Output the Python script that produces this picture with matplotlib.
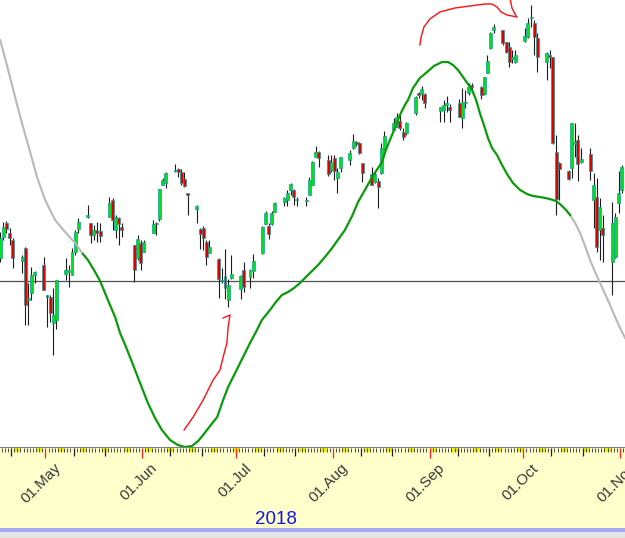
import matplotlib.pyplot as plt
import numpy as np
import pandas as pd
from matplotlib.patches import Rectangle

start = pd.Timestamp("2018-04-16")

# trading days as calendar-day offsets from start
day = [0, 1, 2, 3, 4, 7, 8, 9, 10, 11, 14, 15, 16, 17, 18, 21, 22, 23, 24, 25,
       28, 29, 30, 31, 32, 35, 36, 37, 38, 39, 43, 44, 45, 46,
       49, 50, 51, 52, 53, 56, 57, 58, 59, 60, 63, 64, 65, 66, 67, 70, 71, 72, 73, 74,
       77, 78, 80, 81, 84, 85, 86, 87, 88, 91, 92, 93, 94, 95, 98, 99, 100, 101, 102,
       105, 106, 107, 108, 109, 112, 113, 114, 115, 116, 119, 120, 121, 122, 123,
       126, 127, 128, 129, 130, 133, 134, 135, 136, 141, 142, 143, 144,
       147, 148, 149, 150, 151, 154, 155, 156, 157, 158, 161, 162, 163, 164, 165,
       168, 169, 170, 171, 172, 175, 176, 177, 178, 179, 182, 183, 184, 185, 186,
       189, 190, 191, 192, 193, 196, 197, 198, 199]

open_ = [242, 263, 277, 267, 260, 239, 252, 200, 207, 225, 235, 205, 203, 177, 180,
         226, 228, 225, 248, 271, 283, 277, 265, 270, 269, 283, 300, 270, 282, 273,
         255, 242, 257, 248, 267, 277, 281, 315, 317, 329, 331, 328, 321, 307,
         291, 271, 272, 258, 247, 241, 219, 224, 200, 222, 211, 230, 223, 229,
         247, 276, 274, 276, 288, 298, 300, 310, 310, 300, 299, 305, 315, 343, 348,
         340, 330, 342, 322, 332, 340, 352, 358, 357, 337, 326, 318, 319, 327, 351,
         370, 373, 379, 368, 367, 387, 407, 406, 406, 389, 390, 395, 393,
         397, 382, 397, 407, 415, 413, 406, 427, 452, 470, 470, 458, 453, 441, 438,
         459, 463, 482, 477, 462, 438, 445, 443, 348, 337, 329, 332, 356, 360, 338,
         346, 300, 303, 270, 272, 238, 243, 297, 310]
high = [268, 278, 279, 272, 262, 245, 253, 217, 233, 229, 243, 205, 205, 212, 220,
        242, 235, 252, 270, 282, 295, 277, 275, 278, 277, 303, 302, 285, 283, 277,
        255, 265, 260, 260, 280, 278, 311, 322, 328, 336, 332, 331, 328, 307,
        295, 272, 274, 260, 260, 242, 232, 251, 221, 245, 225, 238, 231, 246,
        274, 289, 277, 289, 298, 303, 310, 317, 311, 303, 303, 323, 339, 354, 349,
        345, 345, 345, 332, 343, 350, 366, 359, 358, 337, 333, 328, 322, 357, 369,
        382, 387, 385, 372, 378, 404, 408, 414, 407, 393, 400, 404, 396,
        401, 412, 410, 417, 417, 414, 423, 445, 468, 476, 470, 458, 458, 450, 450,
        472, 482, 495, 480, 467, 448, 450, 443, 365, 338, 330, 377, 377, 365, 352,
        352, 327, 322, 302, 285, 298, 287, 329, 335]
low = [238, 260, 267, 255, 232, 227, 175, 175, 200, 217, 210, 173, 178, 145, 171,
       220, 213, 225, 245, 267, 282, 257, 260, 258, 258, 283, 270, 262, 255, 263,
       218, 240, 230, 248, 267, 265, 279, 315, 312, 328, 323, 315, 313, 285,
       277, 251, 250, 235, 247, 202, 217, 201, 193, 221, 201, 208, 212, 222,
       246, 276, 261, 275, 288, 294, 294, 305, 295, 294, 294, 305, 315, 343, 333,
       324, 328, 320, 307, 328, 335, 351, 354, 346, 318, 315, 317, 292, 326, 350,
       370, 373, 370, 360, 365, 385, 402, 400, 392, 378, 378, 388, 378,
       383, 372, 392, 405, 410, 401, 405, 427, 451, 467, 455, 447, 433, 437, 437,
       458, 462, 473, 445, 428, 420, 432, 356, 285, 300, 320, 322, 343, 319, 337,
       320, 272, 248, 240, 238, 205, 242, 287, 307]
close = [262, 273, 271, 262, 242, 243, 195, 202, 225, 228, 210, 203, 187, 185, 220,
         230, 230, 248, 268, 278, 285, 265, 270, 267, 264, 297, 280, 283, 276, 270,
         230, 261, 237, 258, 276, 276, 311, 320, 327, 330, 328, 317, 314, 305,
         294, 266, 262, 243, 253, 221, 220, 212, 215, 226, 224, 213, 230, 239,
         273, 287, 266, 287, 297, 302, 307, 316, 303, 301, 300, 320, 338, 348, 342,
         326, 338, 329, 328, 343, 347, 359, 356, 347, 327, 315, 326, 313, 352, 364,
         377, 383, 372, 363, 377, 403, 405, 411, 397, 393, 395, 397, 390,
         383, 398, 398, 413, 413, 405, 423, 439, 467, 473, 457, 448, 438, 443, 445,
         464, 477, 483, 463, 443, 447, 443, 357, 301, 331, 321, 377, 358, 336, 341,
         329, 315, 253, 293, 265, 277, 283, 307, 333]

# smoothed cycle line: gray at both ends, green in the middle
cyc_left_x = [0.5, 2.4, 4.3, 6.2, 8.1, 10.1, 12.3, 14.9, 18.1, 21.3, 24.5, 27.0]
cyc_left_y = [460, 438, 415, 392, 370, 348, 323, 300, 280, 268, 257, 246]
cyc_mid_x = [27.0, 28.6, 30.9, 32.5, 35.0, 37.3, 38.9, 40.8, 42.7, 45.3, 47.8, 50.1,
             52.3, 54.9, 57.4, 59.7, 61.9, 63.9, 65.5, 67.7, 70.0, 71.9, 73.5, 75.1,
             76.7, 78.6, 80.5, 82.4, 84.3, 86.9, 88.8, 90.7, 92.7, 94.6, 96.5, 98.1,
             99.7, 102.3, 104.5, 106.8, 109.3, 110.9, 113.2, 115.1, 117.3, 119.6,
             121.5, 122.8, 124.0, 125.3, 126.9, 128.5, 130.1, 131.1, 132.7, 134.9,
             137.2, 139.4, 142.0, 143.9, 145.5, 147.1, 148.7, 150.3, 151.6, 152.9,
             154.1, 155.4, 156.7, 158.0, 159.6, 161.2, 162.8, 164.7, 167.0, 169.2,
             171.1, 173.4, 176.5, 178.5, 180.1, 181.7, 183.0]
cyc_mid_y = [246, 240, 228, 219, 200, 183, 167, 153, 138, 117, 97, 82,
             70, 60, 55, 53, 54, 59, 65, 74, 83, 100, 113, 123,
             133, 145, 157, 168, 180, 190, 198, 205, 208, 212, 217, 222,
             227, 235, 243, 252, 263, 270, 284, 298, 310, 323,
             332, 338, 350, 360, 372, 385, 395, 400, 412, 422,
             428, 434, 438, 438, 435, 430, 423, 416, 410, 400,
             387, 375, 362, 352, 345, 335, 326, 317, 310, 306,
             304, 303, 301, 299, 295, 290, 285]
cyc_right_x = [183.0, 184.6, 186.2, 187.8, 189.4, 191.0, 192.6, 194.2, 195.8, 197.4, 199.0, 200.6]
cyc_right_y = [285, 277, 267, 254, 240, 228, 217, 206, 195, 183, 172, 162]

h_level = 219

# hand-drawn red marks
mark_a_x = [59.4, 62.3, 65.5, 68.7, 70.9, 71.9, 73.1, 73.5, 74.1, 71.9]
mark_a_y = [70, 83, 100, 120, 130, 143, 157, 173, 185, 182]
mark_b_x = [134.9, 135.3, 136.2, 138.1, 141.3, 146.1, 150.9, 155.7, 158.0, 159.6, 160.9, 162.8, 166.0]
mark_b_y = [455, 463, 473, 481, 488, 492, 494, 496, 496, 493, 488, 485, 483]
mark_c_x = [163.8, 164.4, 165.7]
mark_c_y = [501, 492, 484]

months = ["2018-05-01", "2018-06-01", "2018-07-01", "2018-08-01",
          "2018-09-01", "2018-10-01", "2018-11-01"]

x_left = 0.45
x_right = x_left + 625 / 3.123

fig = plt.figure(figsize=(6.25, 5.38), dpi=100)
ax = fig.add_axes([0, 91 / 538, 1, 447 / 538])
ax.set_facecolor("#F4FEFE")
ax.set_xlim(x_left, x_right)
ax.set_ylim(53, 500)
ax.axis("off")

x = np.array(day) + 0.5
o = np.array(open_, dtype=float)
c = np.array(close, dtype=float)
up = c >= o

ax.axhline(h_level, color="#505050", lw=0.9, zorder=1)
ax.vlines(x, low, high, color="#1c1c1c", lw=0.8, zorder=2)
ax.bar(x[up], np.maximum(c[up] - o[up], 1), bottom=o[up], width=0.95,
       color="#00E020", edgecolor="#1A9A9A", lw=0.5, zorder=3)
ax.bar(x[~up], np.maximum(o[~up] - c[~up], 1), bottom=c[~up], width=0.95,
       color="#E00000", edgecolor="#1A9A9A", lw=0.5, zorder=3)

ax.plot(cyc_left_x, cyc_left_y, color="#B8B8B8", lw=1.5, zorder=4)
ax.plot(cyc_right_x, cyc_right_y, color="#B8B8B8", lw=1.5, zorder=4)
ax.plot(cyc_mid_x, cyc_mid_y, color="#0A9A0A", lw=1.6, zorder=5)

for mx, my in [(mark_a_x, mark_a_y), (mark_b_x, mark_b_y), (mark_c_x, mark_c_y)]:
    ax.plot(mx, my, color="#FF1010", lw=1.0, zorder=6)

# date ruler
axd = fig.add_axes([0, 10 / 538, 1, 81 / 538])
axd.set_facecolor("#FFFFCC")
axd.set_xlim(x_left, x_right)
axd.set_ylim(81, 0)
axd.set_xticks([])
axd.set_yticks([])
for s in axd.spines.values():
    s.set_visible(False)
axd.axhline(0.3, color="#808080", lw=0.8)

all_days = pd.date_range(start, periods=202, freq="D")
for i, d in enumerate(all_days):
    if d.weekday() >= 5:
        axd.add_patch(Rectangle((i, 1), 1, 4, color="#F2F200", lw=0))
    if d.day == 1:
        axd.vlines(i, 0.5, 11, color="#FF2020", lw=0.9)
    elif d.day in (10, 20):
        axd.vlines(i, 0.5, 9, color="#202020", lw=0.9)
    else:
        axd.vlines(i, 0.5, 4.5, color="#303030", lw=0.6)

for m in months:
    t = pd.Timestamp(m)
    pos = (t - start).days
    axd.text(pos + 2.6, 14, t.strftime("%d.%b"), rotation=45, ha="right", va="top",
             rotation_mode="anchor", fontsize=11, color="#383838",
             family="Liberation Sans")

fig.text(276 / 625, 1 - 520 / 538, "2018", color="#1414E6", fontsize=13.5,
         ha="center", va="center", family="Liberation Sans")

fig.add_artist(Rectangle((0, 6 / 538), 1, 4 / 538, transform=fig.transFigure,
                         color="#A9A9F2", lw=0))
fig.add_artist(Rectangle((0, 0), 1, 6 / 538, transform=fig.transFigure,
                         color="#E4E4E4", lw=0))

fig.savefig("out.png", dpi=100)
